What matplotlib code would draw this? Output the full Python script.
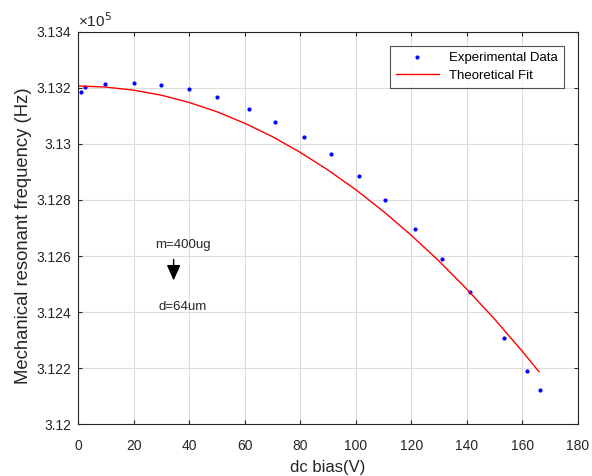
import matplotlib.pyplot as plt

plt.rcParams['font.family'] = ['Liberation Sans', 'DejaVu Sans']

# measured resonant frequency vs dc bias (frequency in units of 1e5 Hz)
bias_v = [0.9, 2.6, 9.8, 20.2, 29.7, 39.8, 49.9, 61.4, 70.9, 81.4, 91.0,
          101.1, 110.5, 121.3, 131.2, 141.0, 153.4, 161.6, 166.4]
freq_meas = [3.13186, 3.13202, 3.13213, 3.13217, 3.13211, 3.13195, 3.13168,
             3.13125, 3.13077, 3.13025, 3.12963, 3.12885, 3.12801, 3.12698,
             3.12590, 3.12470, 3.12307, 3.12190, 3.12122]

# theoretical curve
fit_v = [0, 10, 20, 30, 40, 50, 60, 70, 80, 90, 100, 110, 120, 130, 140,
         150, 160, 166]
freq_fit = [3.13207, 3.13203, 3.13192, 3.13174, 3.13148, 3.13115, 3.13074,
            3.13026, 3.12970, 3.12907, 3.12837, 3.12759, 3.12674, 3.12582,
            3.12482, 3.12375, 3.12260, 3.12187]

xticks = list(range(0, 181, 20))
yticks = [3.12, 3.122, 3.124, 3.126, 3.128, 3.13, 3.132, 3.134]
ytick_labels = ['3.12', '3.122', '3.124', '3.126', '3.128', '3.13', '3.132', '3.134']

fig = plt.figure(figsize=(5.92, 4.76), dpi=100)
ax = fig.add_axes([0.132, 0.109, 0.844, 0.824])

ax.plot(bias_v, freq_meas, '.', color='blue', markersize=4,
        label='Experimental Data')
ax.plot(fit_v, freq_fit, '-', color='red', lw=1.0, label='Theoretical Fit')

ax.set_xlim(0, 180)
ax.set_ylim(3.12, 3.134)
ax.set_xticks(xticks)
ax.set_yticks(yticks)
ax.set_yticklabels(ytick_labels)
ax.grid(True, color='#dcdcdc', lw=0.8)
ax.set_axisbelow(True)
ax.tick_params(direction='in', length=3, labelsize=10, colors='#262626',
               top=True, right=True, labeltop=False, labelright=False)
ax.tick_params(axis='x', pad=11)
ax.tick_params(axis='y', pad=5)
for s in ax.spines.values():
    s.set_color('#262626')
    s.set_linewidth(0.8)

ax.set_xlabel('dc bias(V)', fontsize=12, color='#262626')
ax.xaxis.set_label_coords(0.5, -0.092)
ax.set_ylabel('Mechanical resonant frequency (Hz)', fontsize=13.3,
              color='#262626')
ax.yaxis.set_label_coords(-0.093, 0.48)
ax.text(0.0, 1.005, '\u00d710$^5$', transform=ax.transAxes,
        fontsize=11, color='#262626', va='bottom', ha='left')

ax.text(37.7, 3.12639, 'm=400ug', ha='center', va='center', fontsize=9.5,
        color='#262626')
ax.annotate('', xy=(34.4, 3.12503), xytext=(34.4, 3.12598),
            arrowprops=dict(arrowstyle='-|>,head_length=0.47,head_width=0.21',
                            color='black', lw=1.0, mutation_scale=20))
ax.text(37.7, 3.12418, 'd=64um', ha='center', va='center', fontsize=9.5,
        color='#262626')

leg = ax.legend(loc='upper right', bbox_to_anchor=(0.972, 0.964),
                borderaxespad=0, fontsize=9.5, frameon=True, fancybox=False,
                borderpad=0.45, handlelength=3.2, labelspacing=0.4)
leg.get_frame().set_edgecolor('#262626')
leg.get_frame().set_linewidth(0.8)

fig.savefig('out.png', dpi=100)
